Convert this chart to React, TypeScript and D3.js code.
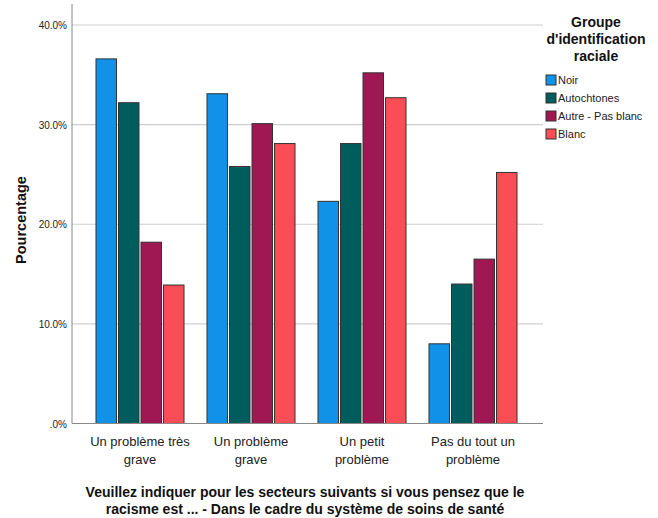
import React from "react";
import * as d3 from "d3";

const categories = [
  ["Un problème très", "grave"],
  ["Un problème", "grave"],
  ["Un petit", "problème"],
  ["Pas du tout un", "problème"],
];
const series = ["Noir", "Autochtones", "Autre - Pas blanc", "Blanc"];
const colors = ["#1192e8", "#005d5d", "#9f1853", "#fa4d56"];
const noir = [36.6, 33.1, 22.3, 8.0];
const autochtones = [32.2, 25.8, 28.1, 14.0];
const autre = [18.2, 30.1, 35.2, 16.5];
const blanc = [13.9, 28.1, 32.7, 25.2];
const yTicks = [0, 10, 20, 30, 40];
const values = [noir, autochtones, autre, blanc];

const font = "'Liberation Sans', Arial, sans-serif";

export default function App() {
  const W = 658, H = 518;
  const y = d3.scaleLinear().domain([0, 40]).range([423.5, 25]);
  const x0 = d3.scaleBand<number>().domain([0, 1, 2, 3]).range([84.5, 528.5]).paddingInner(0.207).paddingOuter(0.1035);
  const x1 = d3.scaleBand<number>().domain([0, 1, 2, 3]).range([0, x0.bandwidth()]).paddingInner(0.09).paddingOuter(0);
  const fmt = (v: number) => (v === 0 ? ".0%" : d3.format(".1f")(v) + "%");
  return (
    <svg width={W} height={H} style={{ position: "absolute", left: 0, top: 0, fontFamily: font }}>
      <rect width={W} height={H} fill="#fff" />
      {yTicks.map((t) => (
        <g key={t}>
          {t > 0 && <line x1={72} x2={543} y1={y(t)} y2={y(t)} stroke="#cfcfcf" strokeWidth={1.2} />}
          <text x={67} y={y(t) + 4} textAnchor="end" fontSize={10} fill="#222">{fmt(t)}</text>
        </g>
      ))}
      <line x1={72} x2={72} y1={4} y2={423.5} stroke="#888" />
      {values.map((vals, s) =>
        vals.map((v, c) => (
          <rect key={`${s}-${c}`} x={x0(c)! + x1(s)!} y={y(v)} width={x1.bandwidth()} height={y(0) - y(v)}
            fill={colors[s]} stroke="#333" strokeWidth={1} />
        ))
      )}
      <line x1={72} x2={543} y1={423.5} y2={423.5} stroke="#888" />
      {categories.map((lines, c) => (
        <text key={c} x={x0(c)! + x0.bandwidth() / 2} textAnchor="middle" fontSize={13} fill="#222">
          {lines.map((l, i) => (
            <tspan key={i} x={x0(c)! + x0.bandwidth() / 2} y={446 + i * 18}>{l}</tspan>
          ))}
        </text>
      ))}
      <text transform="translate(26,220) rotate(-90)" textAnchor="middle" fontSize={14.5} fontWeight="bold" fill="#111">Pourcentage</text>
      <text textAnchor="middle" fontSize={14} fontWeight="bold" fill="#111">
        <tspan x={305} y={497}>Veuillez indiquer pour les secteurs suivants si vous pensez que le</tspan>
        <tspan x={305} y={514}>racisme est ... - Dans le cadre du système de soins de santé</tspan>
      </text>
      <text textAnchor="middle" fontSize={14} fontWeight="bold" fill="#111">
        <tspan x={596} y={27}>Groupe</tspan>
        <tspan x={596} y={44}>d'identification</tspan>
        <tspan x={596} y={61}>raciale</tspan>
      </text>
      {series.map((s, i) => (
        <g key={s}>
          <rect x={546} y={75 + i * 18} width={10} height={10} fill={colors[i]} stroke="#333" />
          <text x={558} y={84 + i * 18} fontSize={11} fill="#222">{s}</text>
        </g>
      ))}
    </svg>
  );
}
